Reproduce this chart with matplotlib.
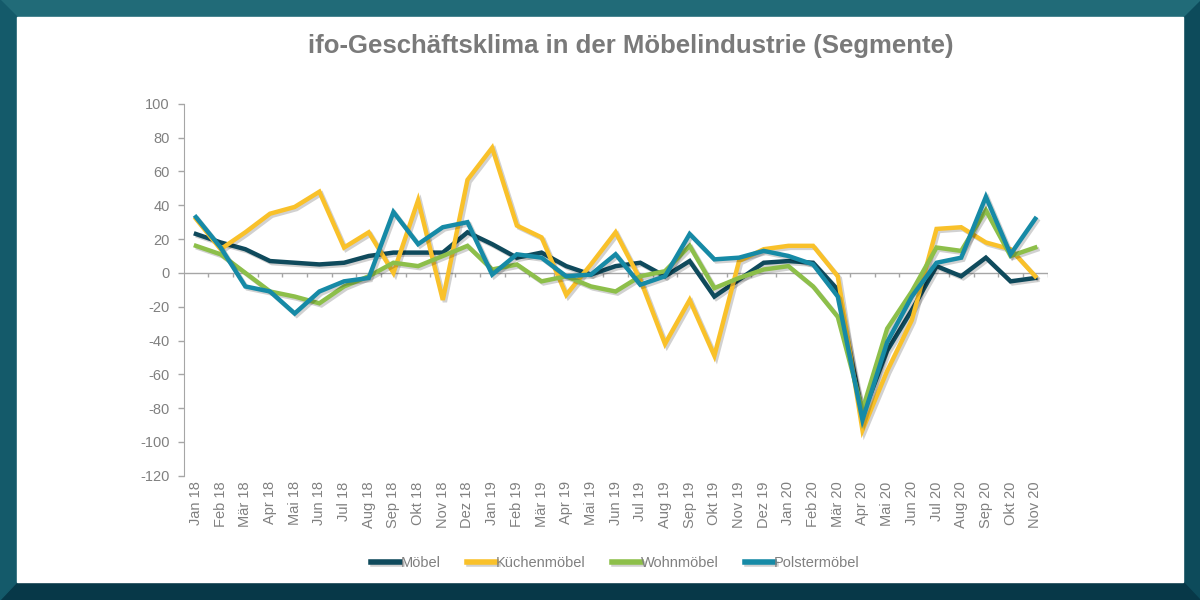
import matplotlib.pyplot as plt
import matplotlib.patheffects as pe
from matplotlib.patches import Rectangle, Polygon

# Monate Jan 18 - Nov 20
monate = ["Jan 18", "Feb 18", "Mär 18", "Apr 18", "Mai 18", "Jun 18", "Jul 18", "Aug 18",
          "Sep 18", "Okt 18", "Nov 18", "Dez 18", "Jan 19", "Feb 19", "Mär 19", "Apr 19",
          "Mai 19", "Jun 19", "Jul 19", "Aug 19", "Sep 19", "Okt 19", "Nov 19", "Dez 19",
          "Jan 20", "Feb 20", "Mär 20", "Apr 20", "Mai 20", "Jun 20", "Jul 20", "Aug 20",
          "Sep 20", "Okt 20", "Nov 20"]

moebel = [23, 18, 14, 7, 6, 5, 6, 10, 12, 12, 12, 24, 17, 9, 12, 4, -1, 4, 6, -2,
          7, -14, -4, 6, 7, 6, -10, -84, -46, -22, 4, -2, 9, -5, -3]
kuechen = [32, 14, 24, 35, 39, 48, 15, 24, 0, 43, -16, 55, 74, 28, 21, -13, 5, 24, -4, -42,
           -16, -49, 7, 14, 16, 16, -2, -93, -58, -28, 26, 27, 18, 14, -2]
wohn = [16, 11, 0, -11, -14, -18, -8, -2, 6, 4, 10, 16, 2, 5, -5, -2, -8, -11, -2, 1,
        16, -9, -3, 2, 4, -8, -26, -81, -33, -11, 15, 13, 37, 10, 15]
polster = [33, 15, -8, -11, -24, -11, -5, -3, 36, 17, 27, 30, -1, 11, 9, -2, -1, 11, -7, -2,
           23, 8, 9, 13, 10, 5, -14, -87, -41, -14, 6, 9, 45, 11, 32]

reihen = [("Möbel", moebel, "#0f4a5c"),
          ("Küchenmöbel", kuechen, "#f9c12a"),
          ("Wohnmöbel", wohn, "#8dbf4a"),
          ("Polstermöbel", polster, "#168aa6")]

grau = "#808080"
plt.rcParams['font.family'] = ['Liberation Sans', 'DejaVu Sans']
plt.rcParams['axes.unicode_minus'] = False

fig = plt.figure(figsize=(12, 6), dpi=100)
fig.patch.set_facecolor("#0d4b5b")

# Rahmen: hellerer Rand oben, dunklerer unten
fig.patches.append(Polygon([(0, 1), (1, 1), (1 - 17/1200, 1 - 17/600), (17/1200, 1 - 17/600)],
                           closed=True, transform=fig.transFigure, color="#216b78", zorder=-3))
fig.patches.append(Polygon([(0, 0), (1, 0), (1 - 17/1200, 18/600), (17/1200, 18/600)],
                           closed=True, transform=fig.transFigure, color="#073848", zorder=-3))
fig.patches.append(Polygon([(0, 0), (0, 1), (17/1200, 1 - 17/600), (17/1200, 18/600)],
                           closed=True, transform=fig.transFigure, color="#145a6a", zorder=-3))
fig.patches.append(Rectangle((17/1200, 18/600), 1166/1200, 565/600,
                             transform=fig.transFigure, color="white", zorder=-2))

ax = fig.add_axes([0.153, 0.207, 0.72, 0.62])
ax.set_zorder(5)
ax.set_facecolor("none")
x = list(range(len(monate)))

schatten = [pe.SimpleLineShadow(offset=(1.5, -1.5), alpha=0.18, shadow_color="black"), pe.Normal()]
for name, werte, farbe in reihen:
    ax.plot(x, werte, color=farbe, lw=3.2, label=name, solid_joinstyle="miter",
            path_effects=schatten)

ax.set_xlim(-0.5, len(monate) - 0.5)
ax.set_ylim(-120, 100)
ax.set_yticks(range(-120, 101, 20))

# Nulllinie mit kleinen Strichen zwischen den Monaten
ax.axhline(0, color="#a6a6a6", lw=1, zorder=0)
ax.vlines([i + 0.5 for i in x], -2.2, 0, color="#a6a6a6", lw=1, zorder=0)

ax.set_xticks(x)
ax.set_xticklabels(monate, rotation=90)
ax.tick_params(axis="x", length=0, pad=4, labelsize=10.5, labelcolor=grau)
ax.tick_params(axis="y", length=4, width=1, color="#a6a6a6", labelsize=10.5, labelcolor=grau, pad=6)

for s in ["top", "right", "bottom"]:
    ax.spines[s].set_visible(False)
ax.spines["left"].set_color("#a6a6a6")

fig.text(0.526, 0.923, "ifo-Geschäftsklima in der Möbelindustrie (Segmente)",
         ha="center", va="center", fontsize=18.5, fontweight="bold", color="#7a7a7a")

leg = fig.legend(loc="center", bbox_to_anchor=(0.513, 0.062), ncol=4, frameon=False,
                 handlelength=2.0, handletextpad=0.0, columnspacing=1.8, fontsize=10.5)
for t in leg.get_texts():
    t.set_color(grau)
for h in leg.get_lines():
    h.set_linewidth(4)

plt.savefig("out.png", dpi=100)
